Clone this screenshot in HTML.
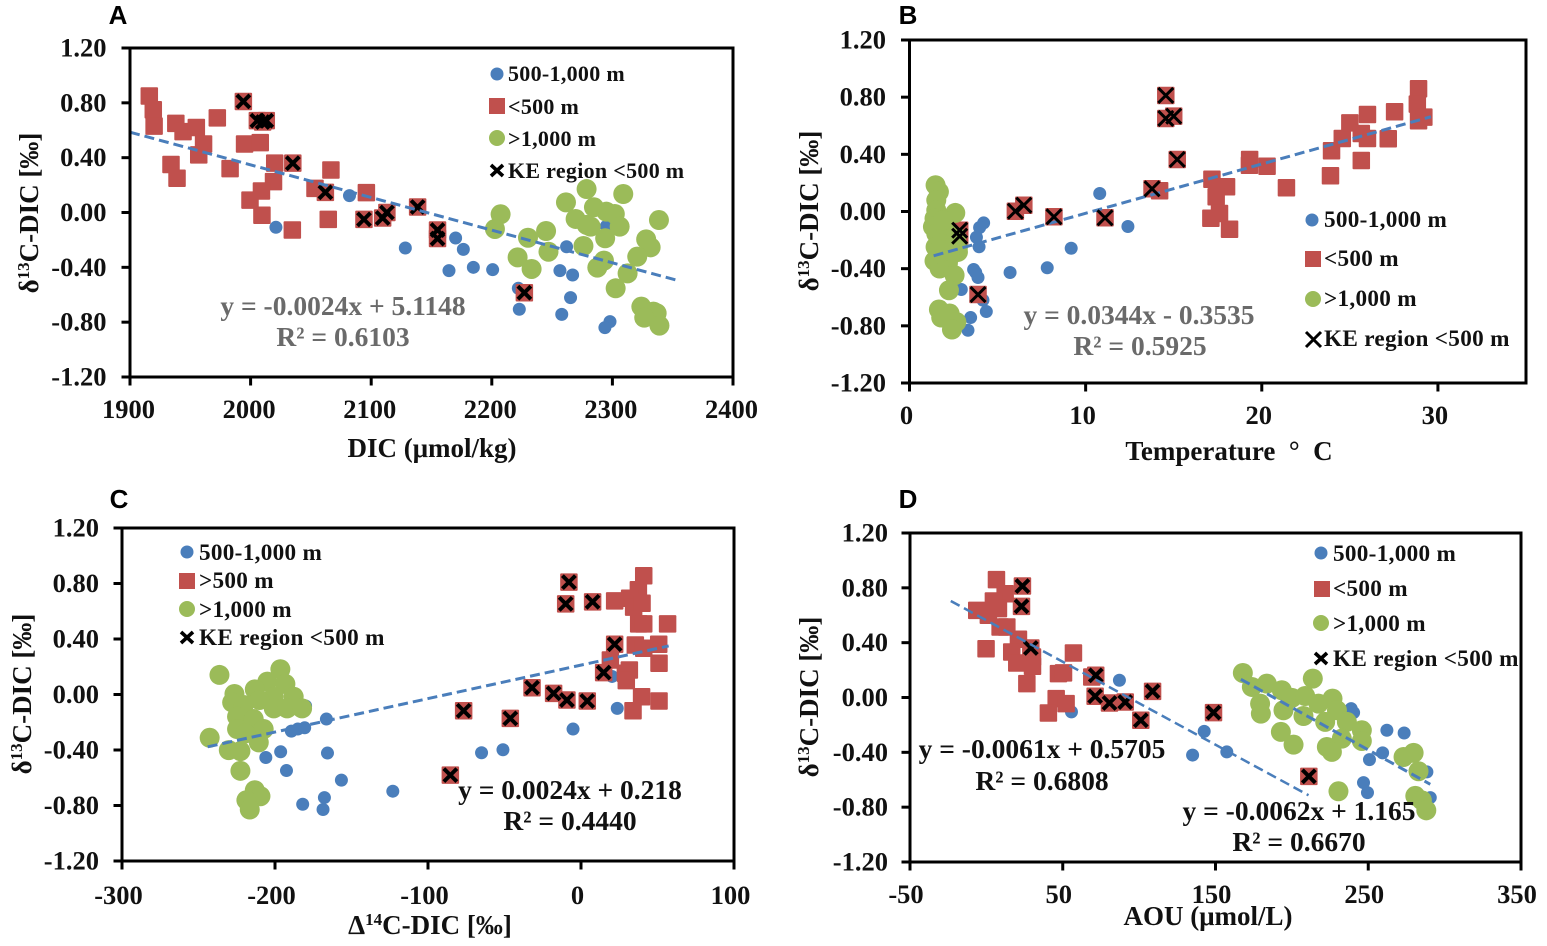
<!DOCTYPE html>
<html lang="en">
<head>
<meta charset="utf-8">
<title>δ13C-DIC scatter panels</title>
<style>
html,body{margin:0;padding:0;background:#fff;}
svg{display:block;}
text{font-family:"Liberation Serif",serif;font-weight:bold;fill:#111;}
.tick{font-size:26.5px;}
.legend{font-size:22px;letter-spacing:.3px;}
g.lg .legend{font-size:23.2px;}
.title{font-size:27px;}
.eq{font-size:27.5px;text-anchor:middle;}
.grey{fill:#6a6a6a;}
.letter{font-family:"Liberation Sans",sans-serif;font-size:26px;fill:#000;text-anchor:middle;}
</style>
</head>
<body>
<svg id="figure" xmlns="http://www.w3.org/2000/svg" width="1547" height="946" viewBox="0 0 1547 946">
  <rect width="1547" height="946" fill="#fff"/>
  <g id="marks"></g>

  <text class="letter" x="118" y="24">A</text>
  <text class="letter" x="908" y="24">B</text>
  <text class="letter" x="119" y="508">C</text>
  <text class="letter" x="908" y="508">D</text>

  <!-- axis titles -->
  <text class="title" x="432" y="457" text-anchor="middle">DIC (μmol/kg)</text>
  <text class="title" x="1229" y="460" text-anchor="middle" xml:space="preserve">Temperature  °  C</text>
  <text class="title" x="430" y="934" text-anchor="middle">Δ<tspan font-size="17" dy="-9">14</tspan><tspan dy="9">C-DIC [‰]</tspan></text>
  <text class="title" x="1208" y="925" text-anchor="middle">AOU (μmol/L)</text>

  <text class="title" transform="translate(38,213) rotate(-90)" text-anchor="middle">δ<tspan font-size="17" dy="-9">13</tspan><tspan dy="9">C-DIC [‰]</tspan></text>
  <text class="title" transform="translate(818,211) rotate(-90)" text-anchor="middle">δ<tspan font-size="17" dy="-9">13</tspan><tspan dy="9">C-DIC [‰]</tspan></text>
  <text class="title" transform="translate(31,694) rotate(-90)" text-anchor="middle">δ<tspan font-size="17" dy="-9">13</tspan><tspan dy="9">C-DIC [‰]</tspan></text>
  <text class="title" transform="translate(818,697) rotate(-90)" text-anchor="middle">δ<tspan font-size="17" dy="-9">13</tspan><tspan dy="9">C-DIC [‰]</tspan></text>

  <!-- equations -->
  <text class="eq grey" x="343" y="315">y = -0.0024x + 5.1148</text>
  <text class="eq grey" x="343" y="346">R² = 0.6103</text>
  <text class="eq grey" x="1139" y="324">y = 0.0344x - 0.3535</text>
  <text class="eq grey" x="1140" y="355">R² = 0.5925</text>
  <text class="eq" x="570" y="799">y = 0.0024x + 0.218</text>
  <text class="eq" x="570" y="830">R² = 0.4440</text>
  <text class="eq" x="1042" y="758">y = -0.0061x + 0.5705</text>
  <text class="eq" x="1042" y="790">R² = 0.6808</text>
  <text class="eq" x="1299" y="820">y = -0.0062x + 1.165</text>
  <text class="eq" x="1299" y="851">R² = 0.6670</text>

  <!-- legends -->
  <g>
    <circle cx="497" cy="74" r="6.5" fill="#4a7ebb"/><text class="legend" x="508" y="81">500-1,000 m</text>
    <rect x="489" y="98" width="16" height="16" fill="#c0504d"/><text class="legend" x="508" y="114">&lt;500 m</text>
    <circle cx="497" cy="138" r="8" fill="#9bbb59"/><text class="legend" x="508" y="146">&gt;1,000 m</text>
    <path d="M491 165L503 176M503 165L491 176" stroke="#000" stroke-width="3.6" fill="none"/><text class="legend" x="508" y="178">KE region &lt;500 m</text>
  </g>
  <g class="lg">
    <circle cx="1312" cy="220" r="6.5" fill="#4a7ebb"/><text class="legend" x="1324" y="227">500-1,000 m</text>
    <rect x="1305" y="251" width="16" height="16" fill="#c0504d"/><text class="legend" x="1324" y="266">&lt;500 m</text>
    <circle cx="1313" cy="299" r="8" fill="#9bbb59"/><text class="legend" x="1324" y="306">&gt;1,000 m</text>
    <path d="M1306 332L1321 347M1321 332L1306 347" stroke="#000" stroke-width="3" fill="none"/><text class="legend" x="1324" y="346">KE region &lt;500 m</text>
  </g>
  <g class="lg">
    <circle cx="187" cy="552" r="6.5" fill="#4a7ebb"/><text class="legend" x="199" y="560">500-1,000 m</text>
    <rect x="179" y="573" width="16" height="16" fill="#c0504d"/><text class="legend" x="199" y="588">&gt;500 m</text>
    <circle cx="187" cy="609" r="8" fill="#9bbb59"/><text class="legend" x="199" y="617">&gt;1,000 m</text>
    <path d="M181 632L193 643M193 632L181 643" stroke="#000" stroke-width="3.6" fill="none"/><text class="legend" x="199" y="645">KE region &lt;500 m</text>
  </g>
  <g class="lg">
    <circle cx="1321" cy="553" r="6.5" fill="#4a7ebb"/><text class="legend" x="1333" y="561">500-1,000 m</text>
    <rect x="1314" y="581" width="16" height="16" fill="#c0504d"/><text class="legend" x="1333" y="596">&lt;500 m</text>
    <circle cx="1321" cy="623" r="8" fill="#9bbb59"/><text class="legend" x="1333" y="631">&gt;1,000 m</text>
    <path d="M1315 653L1327 664M1327 653L1315 664" stroke="#000" stroke-width="3.6" fill="none"/><text class="legend" x="1333" y="666">KE region &lt;500 m</text>
  </g>
</svg>

<script>
// ---------- shared tick values ----------
const yTickValues = [1.2, 0.8, 0.4, 0, -0.4, -0.8, -1.2];
const xTicksA = [1900, 2000, 2100, 2200, 2300, 2400];
const xTicksB = [0, 10, 20, 30];
const xTicksC = [-300, -200, -100, 0, 100];
const xTicksD = [-50, 50, 150, 250, 350];

// ---------- Panel A: DIC ----------
const aBlueX = [2021, 2082, 2128.3, 2170, 2176.4, 2164.5, 2184.7, 2200.7, 2222, 2222.8, 2262, 2256.5, 2267, 2265.3, 2258, 2298, 2293.8, 2295];
const aBlueY = [-0.108, 0.123, -0.259, -0.186, -0.269, -0.424, -0.4, -0.417, -0.553, -0.706, -0.25, -0.424, -0.456, -0.621, -0.743, -0.796, -0.84, -0.1];
const aRedX = [1916, 1919.3, 1920, 1938, 1944, 1955, 1961, 1957, 1972.4, 1934, 1939, 1983, 1995, 2008, 1994, 2005.6, 2013, 2010, 2020, 2035, 2019, 2009, 1999.5, 2009.4, 2034.6, 2066.6, 2053.4, 2062, 2096, 2064.4, 2094, 2109.5, 2113, 2138.5, 2155, 2155, 2227];
const aRedY = [0.85, 0.75, 0.63, 0.65, 0.59, 0.62, 0.5, 0.42, 0.69, 0.35, 0.25, 0.32, 0.5, 0.51, 0.81, 0.67, 0.67, 0.66, 0.36, 0.36, 0.225, 0.157, 0.09, -0.02, -0.128, 0.31, 0.176, 0.147, 0.145, -0.05, -0.05, -0.04, 0, 0.04, -0.128, -0.19, -0.585];
const aGreenX = [2207.3, 2202.6, 2230, 2245, 2247, 2221.4, 2233, 2278.6, 2309, 2261.5, 2269.5, 2284.7, 2295, 2302, 2306, 2282, 2294, 2276, 2338.6, 2328, 2331.7, 2320.6, 2293, 2287.5, 2312.6, 2302.7, 2324, 2334, 2336.7, 2326.4, 2339, 2278.6];
const aGreenY = [-0.013, -0.12, -0.184, -0.135, -0.286, -0.327, -0.412, 0.171, 0.135, 0.074, -0.047, 0.038, 0.006, -0.011, -0.103, -0.103, -0.188, -0.244, -0.055, -0.196, -0.254, -0.322, -0.351, -0.402, -0.444, -0.553, -0.687, -0.723, -0.735, -0.767, -0.825, -0.09];
const aKeX = [1994, 2005.6, 2013, 2010, 2035, 2062, 2094, 2109.5, 2113, 2138.5, 2155, 2155, 2227];
const aKeY = [0.81, 0.67, 0.67, 0.66, 0.36, 0.147, -0.05, -0.04, 0, 0.04, -0.128, -0.19, -0.585];
const aTrendX = [1900, 2354.6];
const aTrendY = [0.586, -0.497];

// ---------- Panel B: Temperature ----------
const bBlueX = [10.8, 12.4, 9.18, 7.82, 5.71, 4.21, 3.98, 3.8, 3.95, 3.64, 3.76, 3.89, 2.94, 4.17, 4.36, 3.47, 3.32];
const bBlueY = [0.126, -0.105, -0.257, -0.394, -0.427, -0.08, -0.112, -0.18, -0.247, -0.406, -0.427, -0.462, -0.546, -0.62, -0.7, -0.742, -0.831];
const bRedX = [14.55, 14.55, 15, 15.2, 13.77, 14.2, 6.01, 6.49, 8.2, 11.1, 3.89, 2.85, 2.85, 17.17, 18, 17.41, 17.6, 17.11, 18.17, 19.31, 19.3, 20.3, 21.4, 23.9, 23.96, 24.57, 25, 25.65, 26, 26, 25.65, 27.18, 27.54, 28.9, 28.83, 28.9, 29.2];
const bRedY = [0.812, 0.651, 0.667, 0.364, 0.159, 0.145, 0.002, 0.044, -0.037, -0.044, -0.581, -0.131, -0.173, 0.226, 0.173, 0.103, -0.014, -0.047, -0.124, 0.364, 0.324, 0.317, 0.166, 0.25, 0.425, 0.511, 0.62, 0.546, 0.679, 0.511, 0.357, 0.509, 0.698, 0.859, 0.751, 0.635, 0.66];
const bGreenX = [1.48, 1.67, 1.52, 1.52, 1.42, 1.33, 2.6, 1.52, 2.09, 1.48, 1.8, 2.37, 1.42, 2.75, 1.71, 2.18, 2.56, 2.24, 1.67, 1.8, 2.28, 2.66, 2.41, 2.75, 2.28, 1.9, 2.66, 2.09];
const bGreenY = [0.184, 0.138, 0.079, 0.009, -0.049, -0.107, -0.01, -0.154, -0.131, -0.248, -0.224, -0.224, -0.346, -0.283, -0.399, -0.364, -0.446, -0.551, -0.686, -0.742, -0.714, -0.773, -0.826, -0.248, -0.318, -0.061, -0.178, -0.271];
const bKeX = [14.55, 14.55, 15, 15.2, 13.77, 6.01, 6.49, 8.2, 11.1, 3.89, 2.85, 2.85];
const bKeY = [0.812, 0.651, 0.667, 0.364, 0.159, 0.002, 0.044, -0.037, -0.044, -0.581, -0.131, -0.173];
const bTrendX = [1.37, 29.6];
const bTrendY = [-0.31, 0.663];

// ---------- Panel C: Δ14C-DIC ----------
const cBlueX = [-180, -166.4, -189.3, -185.1, -180.6, -196.3, -206, -192.5, -165.7, -156.6, -123, -167.7, -181.9, -168.6, 23.7, -5.2, -51, -65, 20.3];
const cBlueY = [-0.083, -0.177, -0.264, -0.249, -0.24, -0.413, -0.454, -0.548, -0.422, -0.617, -0.697, -0.743, -0.791, -0.829, -0.1, -0.249, -0.398, -0.42, 0.13];
const cRedX = [-7.9, -10, 7.6, 22, 14.8, -32, -17.9, -9.2, 4.1, -76.7, -46.2, -85.4, 41, 37.5, 31.8, 22, 34.4, 39.9, 37.7, 41, 56.6, 35.5, 41, 50.8, 19.2, 51, 31.6, 29, 29.6, 39.6, 51, 34];
const cRedY = [0.81, 0.653, 0.668, 0.362, 0.158, 0.049, 0.008, -0.04, -0.047, -0.117, -0.172, -0.581, 0.856, 0.755, 0.694, 0.675, 0.63, 0.658, 0.509, 0.509, 0.509, 0.357, 0.333, 0.362, 0.249, 0.225, 0.177, 0.153, 0.1, -0.016, -0.047, -0.117];
const cGreenX = [-236.3, -196.5, -205, -193.2, -213.2, -226.5, -200.8, -187.8, -210.2, -228, -220.4, -200.8, -192.1, -182.3, -224.8, -213.9, -224.8, -207.4, -219.4, -210.6, -242.7, -230.2, -222.6, -222.6, -213.2, -209.5, -218.7, -216.5];
const cGreenY = [0.141, 0.182, 0.093, 0.076, 0.037, 0.004, -0.016, -0.016, -0.04, -0.057, -0.076, -0.1, -0.1, -0.1, -0.16, -0.177, -0.249, -0.249, -0.28, -0.345, -0.312, -0.401, -0.408, -0.55, -0.69, -0.733, -0.762, -0.829];
const cKeX = [-7.9, -10, 7.6, 22, 14.8, -32, -17.9, -9.2, 4.1, -76.7, -46.2, -85.4];
const cKeY = [0.81, 0.653, 0.668, 0.362, 0.158, 0.049, 0.008, -0.04, -0.047, -0.117, -0.172, -0.581];
const cTrendX = [-244, 57.3];
const cTrendY = [-0.377, 0.35];

// ---------- Panel D: AOU ----------
const dBlueX = [87.1, 55.7, 142.6, 135, 157.4, 238.8, 240.4, 262.2, 273.5, 259.4, 250.8, 246.9, 249.5, 288.4, 290.6];
const dBlueY = [0.126, -0.105, -0.247, -0.42, -0.397, -0.081, -0.11, -0.239, -0.259, -0.404, -0.453, -0.621, -0.694, -0.543, -0.73];
const dRedX = [23.6, 23, 29.1, 71.6, 71.2, 80.6, 90.9, 101.1, 108.8, 148.7, 211.1, 6.6, 12.3, 4.6, 7.9, -6.3, 1.3, 9, 13.4, 21, -0.2, 16.6, 19.9, 30.2, 30.2, 26.5, 57, 47.2, 50.5, 69, 45.7, 52.2, 40.6];
const dRedY = [0.813, 0.665, 0.361, 0.162, 0.009, -0.04, -0.033, -0.166, 0.045, -0.11, -0.575, 0.86, 0.757, 0.704, 0.648, 0.636, 0.6, 0.514, 0.514, 0.425, 0.356, 0.332, 0.252, 0.295, 0.228, 0.101, 0.325, 0.174, 0.18, 0.15, -0.008, -0.045, -0.113];
const dGreenX = [167.9, 173.8, 183.6, 193.4, 200, 208.7, 213.7, 179.2, 179.7, 194.5, 207.6, 217.4, 226.6, 229.5, 221.8, 236, 232.7, 245.8, 245.8, 192.8, 201.1, 222.9, 226.2, 273.1, 279.7, 282.9, 230.5, 280.8, 285.1, 288];
const dGreenY = [0.179, 0.077, 0.101, 0.053, -0.003, 0.011, 0.138, -0.045, -0.118, -0.093, -0.135, -0.045, -0.008, -0.093, -0.178, -0.178, -0.3, -0.239, -0.317, -0.251, -0.344, -0.361, -0.397, -0.434, -0.404, -0.538, -0.684, -0.718, -0.75, -0.823];
const dKeX = [23.6, 23, 29.1, 71.6, 71.2, 80.6, 90.9, 101.1, 108.8, 148.7, 211.1];
const dKeY = [0.813, 0.665, 0.361, 0.162, 0.009, -0.04, -0.033, -0.166, 0.045, -0.11, -0.575];
const dTrendUpperX = [-23.3, 210.9];
const dTrendUpperY = [0.704, -0.713];
const dTrendLowerX = [166.6, 290.6];
const dTrendLowerY = [0.133, -0.633];

const NS = 'http://www.w3.org/2000/svg';
const root = document.getElementById('marks');

function scale(d0, d1, p0, p1) {
  return function (v) { return p0 + (v - d0) * (p1 - p0) / (d1 - d0); };
}
function add(parent, tag, attrs) {
  const el = document.createElementNS(NS, tag);
  for (const k in attrs) el.setAttribute(k, attrs[k]);
  parent.appendChild(el);
  return el;
}
function drawAxes(g, prefix, box, sx, sy, xTicks, yTicks, tickOpts) {
  const frame = add(g, 'rect', {x: box.left, y: box.top, width: box.right - box.left, height: box.bottom - box.top, fill: 'none', stroke: '#000', 'stroke-width': 3});
  
  
  xTicks.forEach(function (v) {
    const x = sx(v);
    const t = add(g, 'line', {x1: x, x2: x, y1: box.bottom, y2: box.bottom + 8.5, stroke: '#000', 'stroke-width': 3});
    
    
    const l = add(g, 'text', {x: x + tickOpts.xShift, y: tickOpts.xBase, 'text-anchor': 'middle', class: 'tick'});
    l.textContent = String(v);
    
    
  });
  yTicks.forEach(function (v) {
    const y = sy(v);
    const t = add(g, 'line', {x1: box.left - 8.5, x2: box.left, y1: y, y2: y, stroke: '#000', 'stroke-width': 3});
    
    
    const l = add(g, 'text', {x: tickOpts.yRight, y: y + 8.5, 'text-anchor': 'end', class: 'tick'});
    l.textContent = v.toFixed(2);
    
    
  });
}
function drawCircles(g, name, xs, ys, sx, sy, r, color) {
  xs.forEach(function (v, i) {
    const c = add(g, 'circle', {cx: sx(v), cy: sy(ys[i]), r: r, fill: color});
    
    
  });
}
function drawSquares(g, name, xs, ys, sx, sy, size, color) {
  xs.forEach(function (v, i) {
    const s = add(g, 'rect', {x: sx(v) - size / 2, y: sy(ys[i]) - size / 2, width: size, height: size, fill: color, rx: 1});
    
    
  });
}
function drawCrosses(g, name, xs, ys, sx, sy, half, width) {
  xs.forEach(function (v, i) {
    const x = sx(v), y = sy(ys[i]);
    const p = add(g, 'path', {d: 'M' + (x - half) + ' ' + (y - half) + 'L' + (x + half) + ' ' + (y + half) + 'M' + (x + half) + ' ' + (y - half) + 'L' + (x - half) + ' ' + (y + half), stroke: '#000', 'stroke-width': width, fill: 'none'});
    
    
  });
}
function drawTrend(g, name, xs, ys, sx, sy, width) {
  const l = add(g, 'line', {x1: sx(xs[0]), y1: sy(ys[0]), x2: sx(xs[1]), y2: sy(ys[1]), stroke: '#4a7ebb', 'stroke-width': width, 'stroke-dasharray': '10 5'});
  
  
}
function panelGroup(name) {
  const g = add(root, 'g', {});
  
  
  return g;
}
const BLUE = '#4a7ebb', RED = '#c0504d', GREEN = '#9bbb59';

// Panel A
(function () {
  const box = {left: 130, right: 733, top: 48, bottom: 377};
  const sx = scale(1900, 2400, box.left, box.right);
  const sy = scale(-1.2, 1.2, box.bottom, box.top);
  const g = panelGroup('panel-a');
  drawCircles(g, 'panel-a-blue-point', aBlueX, aBlueY, sx, sy, 6.5, BLUE);
  drawSquares(g, 'panel-a-red-point', aRedX, aRedY, sx, sy, 17.5, RED);
  drawCircles(g, 'panel-a-green-point', aGreenX, aGreenY, sx, sy, 10, GREEN);
  drawCrosses(g, 'panel-a-ke-point', aKeX, aKeY, sx, sy, 6.5, 4);
  drawTrend(g, 'panel-a-trendline', aTrendX, aTrendY, sx, sy, 3);
  drawAxes(g, 'panel-a', box, sx, sy, xTicksA, yTickValues, {xBase: 418, yRight: 106.5, xShift: -1.5});
})();

// Panel B
(function () {
  const box = {left: 909.5, right: 1526, top: 40, bottom: 383};
  const sx = scale(0, 35, box.left, box.right);
  const sy = scale(-1.2, 1.2, box.bottom, box.top);
  const g = panelGroup('panel-b');
  drawCircles(g, 'panel-b-blue-point', bBlueX, bBlueY, sx, sy, 6.5, BLUE);
  drawSquares(g, 'panel-b-red-point', bRedX, bRedY, sx, sy, 17.5, RED);
  drawCircles(g, 'panel-b-green-point', bGreenX, bGreenY, sx, sy, 10, GREEN);
  drawTrend(g, 'panel-b-trendline', bTrendX, bTrendY, sx, sy, 3);
  drawCrosses(g, 'panel-b-ke-point', bKeX, bKeY, sx, sy, 7.5, 3);
  drawAxes(g, 'panel-b', box, sx, sy, xTicksB, yTickValues, {xBase: 424, yRight: 886, xShift: -3});
})();

// Panel C
(function () {
  const box = {left: 122, right: 734, top: 528, bottom: 861};
  const sx = scale(-300, 100, box.left, box.right);
  const sy = scale(-1.2, 1.2, box.bottom, box.top);
  const g = panelGroup('panel-c');
  drawCircles(g, 'panel-c-blue-point', cBlueX, cBlueY, sx, sy, 6.5, BLUE);
  drawSquares(g, 'panel-c-red-point', cRedX, cRedY, sx, sy, 17.5, RED);
  drawCircles(g, 'panel-c-green-point', cGreenX, cGreenY, sx, sy, 10, GREEN);
  drawCrosses(g, 'panel-c-ke-point', cKeX, cKeY, sx, sy, 6.5, 4);
  drawTrend(g, 'panel-c-trendline', cTrendX, cTrendY, sx, sy, 3);
  drawAxes(g, 'panel-c', box, sx, sy, xTicksC, yTickValues, {xBase: 904, yRight: 99, xShift: -3.5});
})();

// Panel D
(function () {
  const box = {left: 910, right: 1521, top: 533, bottom: 862};
  const sx = scale(-50, 350, box.left, box.right);
  const sy = scale(-1.2, 1.2, box.bottom, box.top);
  const g = panelGroup('panel-d');
  drawCircles(g, 'panel-d-blue-point', dBlueX, dBlueY, sx, sy, 6.5, BLUE);
  drawSquares(g, 'panel-d-red-point', dRedX, dRedY, sx, sy, 17.5, RED);
  drawCircles(g, 'panel-d-green-point', dGreenX, dGreenY, sx, sy, 10, GREEN);
  drawCrosses(g, 'panel-d-ke-point', dKeX, dKeY, sx, sy, 6.5, 4);
  drawTrend(g, 'panel-d-trendline-upper', dTrendUpperX, dTrendUpperY, sx, sy, 2.5);
  drawTrend(g, 'panel-d-trendline-lower', dTrendLowerX, dTrendLowerY, sx, sy, 3);
  drawAxes(g, 'panel-d', box, sx, sy, xTicksD, yTickValues, {xBase: 903, yRight: 888, xShift: -4});
})();
</script>
</body>
</html>
